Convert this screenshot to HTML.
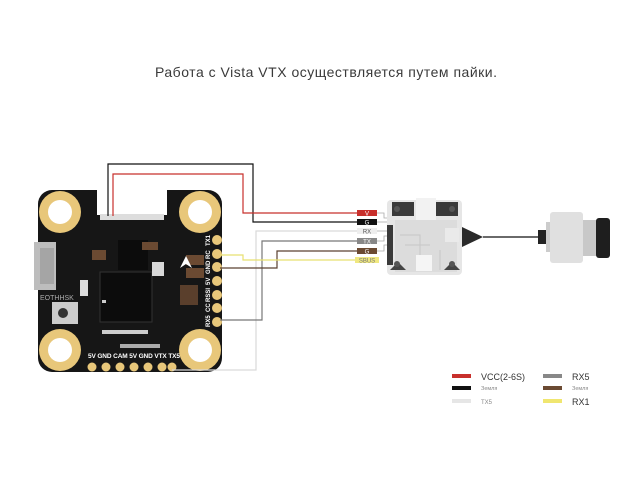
<!DOCTYPE html>
<html><head><meta charset="utf-8"><style>
html,body{margin:0;padding:0;background:#fff;}
svg{display:block;}
text{font-family:"Liberation Sans",sans-serif;}
</style></head><body>
<svg width="641" height="479" viewBox="0 0 641 479" xmlns="http://www.w3.org/2000/svg">
<rect width="641" height="479" fill="#fff"/>
<text x="155" y="77" font-size="14" fill="#3a3a3a" textLength="342">Работа с Vista VTX осуществляется путем пайки.</text>

<!-- board -->
<rect x="38" y="190" width="184" height="182" rx="14" fill="#161616"/>
<g fill="#e8c77a"><circle cx="60" cy="212" r="21"/><circle cx="200" cy="212" r="21"/><circle cx="60" cy="350" r="21"/><circle cx="200" cy="350" r="21"/></g>
<g fill="#fff"><circle cx="60" cy="212" r="12"/><circle cx="200" cy="212" r="12"/><circle cx="60" cy="350" r="12"/><circle cx="200" cy="350" r="12"/></g>
<rect x="97" y="160" width="70" height="55" fill="#fff"/>
<rect x="100" y="214" width="64" height="6" fill="#ddd"/>
<rect x="34" y="242" width="22" height="48" fill="#bdbdbd"/>
<rect x="40" y="248" width="14" height="36" fill="#a5a5a5"/>
<rect x="52" y="302" width="26" height="22" fill="#ccc"/><circle cx="63" cy="313" r="5" fill="#333"/>
<text x="40" y="300" font-size="7" fill="#aaa">EOTHHSK</text>
<rect x="100" y="272" width="52" height="50" fill="#0c0c0c" stroke="#333"/>
<rect x="118" y="240" width="30" height="30" fill="#0c0c0c"/>
<rect x="92" y="250" width="14" height="10" fill="#6b4a32"/>
<rect x="142" y="242" width="16" height="8" fill="#6b4a32"/>
<rect x="152" y="262" width="12" height="14" fill="#d8d8d8"/>
<rect x="80" y="280" width="8" height="16" fill="#ddd"/>
<rect x="186" y="255" width="18" height="10" fill="#6b4a32"/>
<rect x="186" y="268" width="18" height="10" fill="#6b4a32"/>
<rect x="180" y="285" width="18" height="20" fill="#6b4a32" opacity="0.8"/>
<g fill="#ccc"><rect x="102" y="330" width="46" height="4"/><rect x="102" y="300" width="4" height="3"/><rect x="120" y="344" width="40" height="4" fill="#aaa"/></g>
<g fill="#e8c77a">
<circle cx="217" cy="240" r="5"/><circle cx="217" cy="254" r="5"/><circle cx="217" cy="267" r="5"/><circle cx="217" cy="281" r="5"/><circle cx="217" cy="295" r="5"/><circle cx="217" cy="308" r="5"/><circle cx="217" cy="322" r="5"/>
<circle cx="92" cy="367" r="4.5"/><circle cx="106" cy="367" r="4.5"/><circle cx="120" cy="367" r="4.5"/><circle cx="134" cy="367" r="4.5"/><circle cx="148" cy="367" r="4.5"/><circle cx="162" cy="367" r="4.5"/><circle cx="172" cy="367" r="4.5"/>
</g>
<text x="88" y="358" font-size="6.5" fill="#fff" font-weight="bold" textLength="92">5V GND CAM 5V GND VTX TX5</text>
<g font-size="6" fill="#fff" font-weight="bold">
<text transform="translate(210,246) rotate(-90)">TX1</text>
<text transform="translate(210,259) rotate(-90)">RC</text>
<text transform="translate(210,274) rotate(-90)">GND</text>
<text transform="translate(210,285) rotate(-90)">5V</text>
<text transform="translate(210,302) rotate(-90)">RSSI</text>
<text transform="translate(210,312) rotate(-90)">CC</text>
<text transform="translate(210,327) rotate(-90)">RX5</text>
</g>
<path d="M180 268 l6 -12 l6 12 l-6 -4z" fill="#fff"/>

<!-- wires -->
<g fill="none" stroke-width="1.2">
<polyline points="108,216 108,164 253,164 253,222 357,222" stroke="#111"/>
<polyline points="113,216 113,174 243,174 243,213 357,213" stroke="#c8302c"/>
<polyline points="357,231 256,231 256,370 172,370" stroke="#d9d9d9"/>
<polyline points="357,241 262,241 262,320 220,320" stroke="#777"/>
<polyline points="357,251 277,251 277,268 220,268" stroke="#5a4030"/>
<polyline points="357,260 243,260 243,255 220,255" stroke="#e8e070"/>
</g>
<g font-size="6" text-anchor="middle">
<rect x="357" y="210" width="20" height="6" fill="#c8302c"/><text x="367" y="215.5" fill="#fff">V</text>
<rect x="357" y="219" width="20" height="6" fill="#111"/><text x="367" y="224.5" fill="#fff">G</text>
<rect x="357" y="228" width="20" height="6" fill="#eee"/><text x="367" y="233.5" fill="#555">RX</text>
<rect x="357" y="238" width="20" height="6" fill="#888"/><text x="367" y="243.5" fill="#fff">TX</text>
<rect x="357" y="248" width="20" height="6" fill="#6b4a32"/><text x="367" y="253.5" fill="#fff">G</text>
<rect x="355" y="257" width="24" height="6" fill="#f0e880"/><text x="367" y="262.5" fill="#777">SBUS</text>
</g>
<g fill="none" stroke="#aaa" stroke-width="0.8">
<polyline points="377,213 384,213 384,218 388,218"/><polyline points="377,222 388,222"/>
<polyline points="377,231 388,231"/><polyline points="377,241 384,241 384,236 388,236"/>
<polyline points="377,251 384,251 384,245 388,245"/>
</g>

<!-- VTX -->
<rect x="387" y="200" width="75" height="75" rx="4" fill="#e6e6e6"/>
<rect x="392" y="202" width="22" height="14" fill="#3a3a3a"/>
<rect x="436" y="202" width="22" height="14" fill="#3a3a3a"/>
<rect x="416" y="198" width="20" height="22" fill="#f2f2f2"/>
<rect x="387" y="225" width="6" height="40" fill="#3a3a3a"/>
<rect x="395" y="220" width="62" height="52" fill="#dcdcdc"/>
<g stroke="#c6c6c6" stroke-width="1" fill="none"><path d="M400 235 h20 v30 M405 245 h25 M440 250 v20"/></g>
<rect x="416" y="255" width="16" height="16" fill="#f5f5f5"/>
<rect x="445" y="228" width="14" height="14" fill="#eaeaea"/>
<g fill="#444"><path d="M390 270 l8 -8 l8 8z"/><path d="M444 270 l8 -8 l8 8z"/></g>
<g fill="#555"><circle cx="397" cy="209" r="3"/><circle cx="452" cy="209" r="3"/><circle cx="397" cy="264" r="3"/><circle cx="452" cy="264" r="3"/></g>
<polygon points="462,227 483,237 462,247" fill="#2a2a2a"/>
<line x1="483" y1="237" x2="540" y2="237" stroke="#111" stroke-width="1.2"/>
<!-- camera -->
<rect x="538" y="230" width="8" height="14" fill="#222"/>
<rect x="546" y="222" width="6" height="30" fill="#ccc"/>
<rect x="550" y="212" width="33" height="51" rx="3" fill="#e0e0e0"/>
<rect x="583" y="220" width="15" height="36" fill="#c8c8c8"/>
<rect x="596" y="218" width="14" height="40" rx="3" fill="#1e1e1e"/>

<!-- legend -->
<rect x="452" y="374" width="19" height="4" fill="#c8302c"/>
<rect x="452" y="386" width="19" height="4" fill="#111"/>
<rect x="452" y="399" width="19" height="4" fill="#e6e6e6"/>
<rect x="543" y="374" width="19" height="4" fill="#888"/>
<rect x="543" y="386" width="19" height="4" fill="#6b4a32"/>
<rect x="543" y="399" width="19" height="4" fill="#f0e670"/>
<text x="481" y="380" font-size="9" fill="#333">VCC(2-6S)</text>
<text x="481" y="390" font-size="5.5" fill="#888">Земля</text>
<text x="481" y="404" font-size="6" fill="#888">TX5</text>
<text x="572" y="380" font-size="9" fill="#333">RX5</text>
<text x="572" y="390" font-size="5.5" fill="#888">Земля</text>
<text x="572" y="405" font-size="9" fill="#333">RX1</text>
</svg>
</body></html>
